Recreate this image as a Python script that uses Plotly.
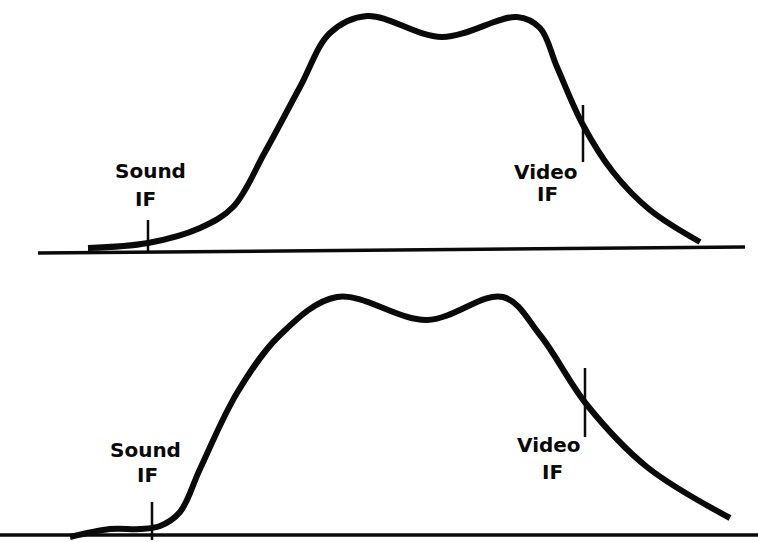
import plotly.graph_objects as go

# Frequency positions (arbitrary units) and relative response of the IF amplifier
upper_freq = [88, 148, 200, 233, 265, 300, 330, 367, 442, 517, 540, 557, 583, 613, 650, 700]
upper_resp = [2, 7, 22, 43, 98, 163, 217, 234, 213, 233, 222, 183, 125, 78, 40, 8]

lower_freq = [70, 110, 140, 160, 180, 200, 237, 280, 337, 427, 503, 540, 587, 647, 730]
lower_resp = [-2, 6, 6, 9, 23, 66, 142, 200, 238, 215, 238, 200, 130, 68, 17]

# Baselines
upper_base_x = [38, 745]
upper_base_y = [-3, 3]
lower_base_x = [0, 758]
lower_base_y = [0, 0]

# Carrier markers: frequency and vertical extent
upper_sound = (148, -2, 30)
upper_video = (583, 88, 145)
lower_sound = (152, -5, 33)
lower_video = (585, 98, 167)

# Label positions (frequency, height)
upper_labels = [("Sound", 150, 79), ("IF", 145, 51), ("Video", 546, 78), ("IF", 547, 56)]
lower_labels = [("Sound", 145, 85), ("IF", 147, 60), ("Video", 549, 90), ("IF", 552, 63)]

INK = "#0a0a0a"

fig = go.Figure()


def add_panel(fig, xa, ya, bx, by, fx, fy, sound, video):
    fig.add_trace(go.Scatter(x=bx, y=by, mode="lines", xaxis=xa, yaxis=ya,
                             line=dict(color=INK, width=3.5), hoverinfo="skip"))
    fig.add_trace(go.Scatter(x=fx, y=fy, mode="lines", xaxis=xa, yaxis=ya,
                             line=dict(color=INK, width=6, shape="spline", smoothing=1.0),
                             hoverinfo="skip"))
    for f, y0, y1 in (sound, video):
        fig.add_trace(go.Scatter(x=[f, f], y=[y0, y1], mode="lines", xaxis=xa, yaxis=ya,
                                 line=dict(color=INK, width=2.5), hoverinfo="skip"))


add_panel(fig, "x", "y", upper_base_x, upper_base_y, upper_freq, upper_resp,
          upper_sound, upper_video)
add_panel(fig, "x2", "y2", lower_base_x, lower_base_y, lower_freq, lower_resp,
          lower_sound, lower_video)

for labels, xr, yr in ((upper_labels, "x", "y"), (lower_labels, "x2", "y2")):
    for text, fx, fy in labels:
        fig.add_annotation(x=fx, y=fy, xref=xr, yref=yr, text=text, showarrow=False,
                           font=dict(family="DejaVu Sans", size=20, color=INK, weight="bold"),
                           xanchor="center", yanchor="middle")

hidden = dict(visible=False, showgrid=False, zeroline=False, fixedrange=True)
fig.update_layout(
    width=758, height=542,
    margin=dict(l=0, r=0, t=0, b=0),
    paper_bgcolor="white", plot_bgcolor="white",
    showlegend=False,
    xaxis=dict(range=[0, 758], domain=[0, 1], anchor="y", **hidden),
    yaxis=dict(range=[-21, 250], domain=[0.5, 1], anchor="x", **hidden),
    xaxis2=dict(range=[0, 758], domain=[0, 1], anchor="y2", **hidden),
    yaxis2=dict(range=[-7, 264], domain=[0, 0.5], anchor="x2", **hidden),
)

fig.write_html("out.html")
